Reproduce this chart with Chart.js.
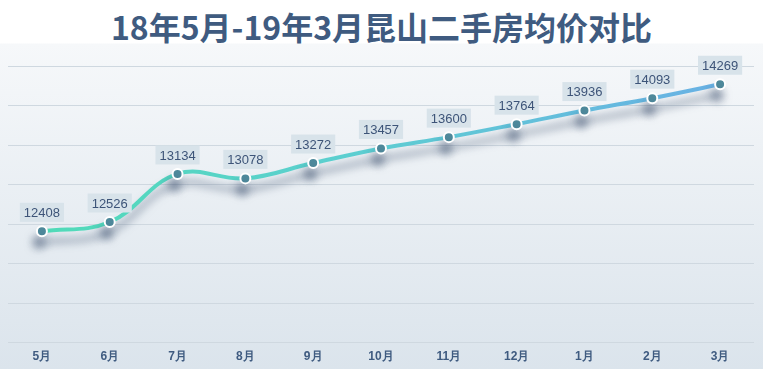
<!DOCTYPE html>
<html>
<head>
<meta charset="utf-8">
<script src="https://cdn.jsdelivr.net/npm/chart.js@4.4.1/dist/chart.umd.min.js"></script>
<style>
  html, body { margin: 0; padding: 0; }
  body {
    width: 763px; height: 369px; overflow: hidden;
    background: linear-gradient(to bottom, #ffffff 0px, #ffffff 43px, #f6f8fa 44px, #dbe4ec 369px);
  }
  #title {
    position: absolute; left: 0; top: 0; width: 763px; height: 44px;
    text-align: center; font-family: "Noto Sans CJK SC", sans-serif; font-weight: bold;
    font-size: 32px; line-height: 52px; color: #3f5b80;
  }
  #wrap { position: absolute; left: 0; top: 44px; width: 763px; height: 327px; }
</style>
</head>
<body>
<div id="title">18年5月-19年3月昆山二手房均价对比</div>
<div id="wrap"><canvas id="chart"></canvas></div>
<script>
const months = ["5月", "6月", "7月", "8月", "9月", "10月", "11月", "12月", "1月", "2月", "3月"];
const prices = [12408, 12526, 13134, 13078, 13272, 13457, 13600, 13764, 13936, 14093, 14269];

// Gradient for the line, green on the left to blue on the right
function lineGradient(ctx) {
    const chart = ctx.chart;
    const area = chart.chartArea;
    if (!area) return "#52d6b6";
    const g = chart.ctx.createLinearGradient(area.left, 0, area.right, 0);
    g.addColorStop(0, "#4fdcb5");
    g.addColorStop(0.45, "#5ccfd0");
    g.addColorStop(1, "#6aaee6");
    return g;
}

// Soft shadow under the line and points
const shadowPlugin = {
    id: "shadow",
    beforeDatasetDraw(chart) {
        const c = chart.ctx;
        c.save();
        c.shadowColor = "rgba(55, 75, 105, 0.55)";
        c.shadowBlur = 9;
        c.shadowOffsetX = -3;
        c.shadowOffsetY = 11;
    },
    afterDatasetDraw(chart) {
        chart.ctx.restore();
    }
};

// Value boxes above each point
const labelPlugin = {
    id: "valueLabels",
    afterDatasetsDraw(chart) {
        const c = chart.ctx;
        const meta = chart.getDatasetMeta(0);
        c.save();
        c.font = "13px 'Liberation Sans', Arial, sans-serif";
        c.textAlign = "center";
        c.textBaseline = "middle";
        meta.data.forEach((pt, i) => {
            const text = String(prices[i]);
            const w = c.measureText(text).width + 8;
            const h = 19;
            const x = pt.x, y = pt.y - 19;
            c.fillStyle = "#d8e3ea";
            c.fillRect(x - w / 2, y - h / 2, w, h);
            c.fillStyle = "#3d5478";
            c.fillText(text, x, y + 1);
        });
        c.restore();
    }
};

new Chart(document.getElementById("chart"), {
    type: "line",
    data: {
        labels: months,
        datasets: [{
            data: prices,
            borderColor: lineGradient,
            borderWidth: 4,
            tension: 0.4,
            pointRadius: 5,
            pointBorderWidth: 2,
            pointBackgroundColor: "#4f8a9c",
            pointBorderColor: "#ffffff",
            fill: false
        }]
    },
    options: {
        responsive: true,
        maintainAspectRatio: false,
        animation: false,
        layout: { padding: { left: 8, right: 9, top: 22, bottom: 0 } },
        plugins: {
            legend: { display: false },
            tooltip: { enabled: false }
        },
        scales: {
            x: {
                offset: true,
                grid: { display: false, drawTicks: false },
                border: { display: false },
                ticks: {
                    color: "#3f5b80",
                    padding: 7,
                    font: { family: "'Liberation Sans', Arial, sans-serif", size: 12, weight: "bold" }
                }
            },
            y: {
                min: 11000,
                max: 14500,
                ticks: { stepSize: 500, display: false },
                border: { display: false },
                grid: { color: "#cfd8e0", lineWidth: 1, drawTicks: false }
            }
        }
    },
    plugins: [shadowPlugin, labelPlugin]
});
</script>
</body>
</html>
